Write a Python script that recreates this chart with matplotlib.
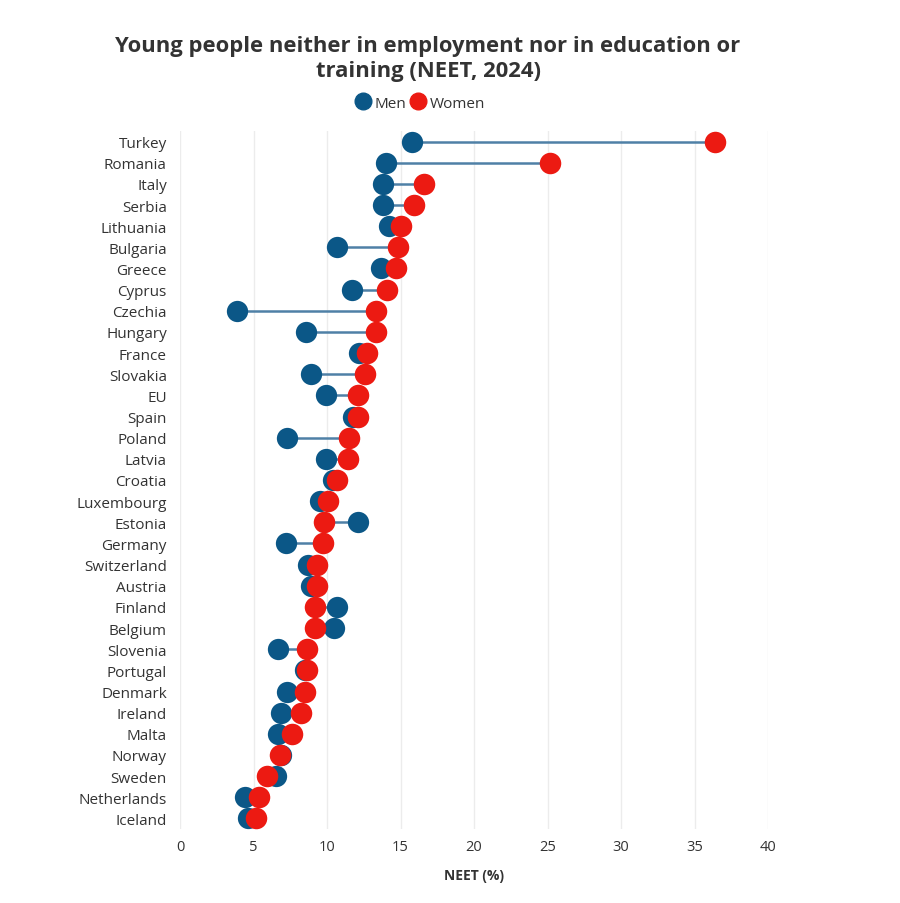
import matplotlib
matplotlib.use("Agg")
import matplotlib.pyplot as plt
from matplotlib.lines import Line2D

plt.rcParams['font.family'] = ['Open Sans', 'DejaVu Sans']

countries = ["Turkey", "Romania", "Italy", "Serbia", "Lithuania", "Bulgaria", "Greece",
             "Cyprus", "Czechia", "Hungary", "France", "Slovakia", "EU", "Spain", "Poland",
             "Latvia", "Croatia", "Luxembourg", "Estonia", "Germany", "Switzerland",
             "Austria", "Finland", "Belgium", "Slovenia", "Portugal", "Denmark", "Ireland",
             "Malta", "Norway", "Sweden", "Netherlands", "Iceland"]
men = [15.8, 14.0, 13.8, 13.8, 14.2, 10.7, 13.7,
       11.7, 3.9, 8.6, 12.2, 8.9, 9.95, 11.8, 7.3,
       9.95, 10.4, 9.5, 12.1, 7.2, 8.7,
       8.9, 10.7, 10.5, 6.7, 8.5, 7.25, 6.9,
       6.7, 6.9, 6.55, 4.4, 4.65]
women = [36.4, 25.2, 16.6, 15.9, 15.0, 14.8, 14.7,
         14.1, 13.3, 13.3, 12.7, 12.6, 12.1, 12.1, 11.5,
         11.4, 10.65, 10.1, 9.8, 9.7, 9.35,
         9.35, 9.2, 9.2, 8.65, 8.65, 8.5, 8.25,
         7.65, 6.8, 5.95, 5.35, 5.2]
xticks = [0, 5, 10, 15, 20, 25, 30, 35, 40]

men_color = "#0b5787"
women_color = "#ec1a12"
line_color = "#4f80a6"
text_color = "#333333"

fig = plt.figure(figsize=(9.0, 9.04), dpi=100)
ax = fig.add_axes([180/900, 1 - 830/904, (768-180)/900, (830-132)/904])

ys = list(range(len(countries)))
for y, m, w in zip(ys, men, women):
    ax.plot([m, w], [y, y], color=line_color, lw=1.8, zorder=2, solid_capstyle='butt')
ax.scatter(men, ys, s=235, color=men_color, zorder=3, linewidths=0)
ax.scatter(women, ys, s=240, color=women_color, zorder=4, linewidths=0)

ax.set_xlim(0, 40)
ax.set_ylim(len(countries) - 0.5, -0.5)
ax.set_yticks(ys)
ax.set_yticklabels(countries, fontsize=11, color=text_color)
ax.set_xticks(xticks)
ax.set_xticklabels([str(t) for t in xticks], fontsize=10.5, color=text_color)
ax.tick_params(axis='x', length=0, pad=7)
ax.tick_params(axis='y', length=0, pad=9.5)
ax.grid(axis='x', color='#ececec', lw=1)
ax.set_axisbelow(True)
for s in ax.spines.values():
    s.set_visible(False)
ax.set_xlabel("NEET (%)", fontsize=10, fontweight='bold', color=text_color, labelpad=10)

fig.text(428/900, 1 - 59/904, "Young people neither in employment nor in education or\ntraining (NEET, 2024)",
         ha='center', va='center', fontsize=15.8, fontweight='bold', color=text_color,
         linespacing=1.25)

handles = [Line2D([], [], marker='o', ls='', color=men_color, markersize=12, label='Men'),
           Line2D([], [], marker='o', ls='', color=women_color, markersize=12, label='Women')]
fig.legend(handles=handles, loc='center', bbox_to_anchor=(420/900, 1 - 104/904), ncol=2,
           frameon=False, fontsize=11, handletextpad=0.25, columnspacing=0.3,
           labelcolor=text_color, borderaxespad=0, handlelength=1.0)

fig.savefig("out.png", dpi=100, facecolor='white')
